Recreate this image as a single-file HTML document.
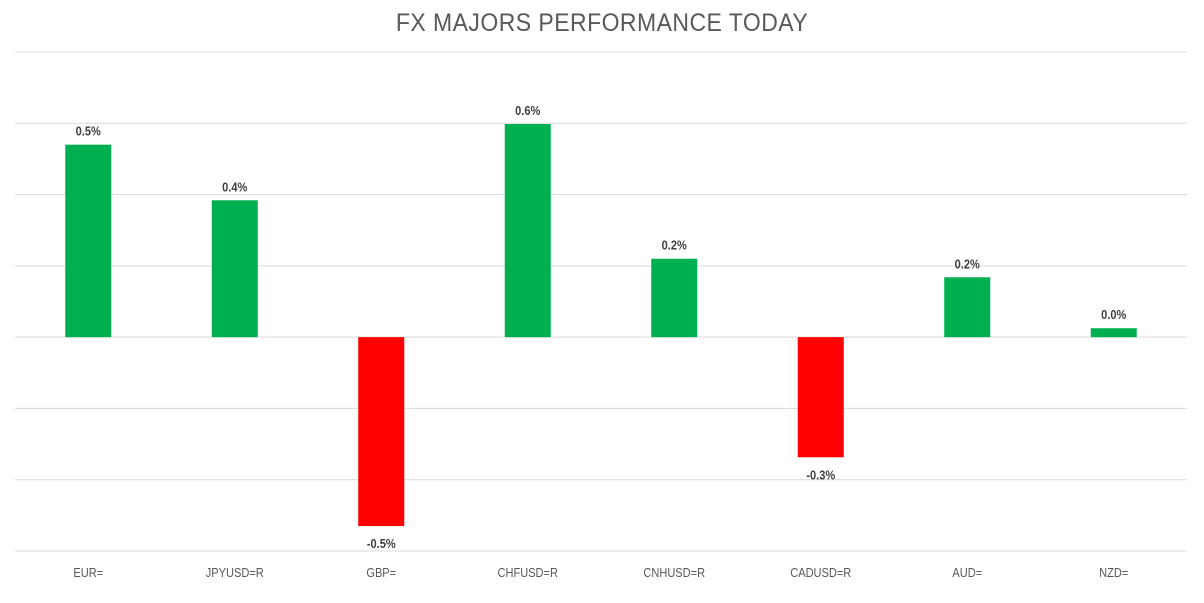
<!DOCTYPE html>
<html><head><meta charset="utf-8"><style>
body{margin:0;background:#fff;}
svg{display:block;font-family:"Liberation Sans",sans-serif;}
</style></head><body>
<svg id="chart" width="1204" height="603">
<text x="602" y="31" text-anchor="middle" font-size="25" fill="#595959" style="letter-spacing:0.5px" transform="translate(602,0) scale(0.92,1) translate(-602,0)">FX MAJORS PERFORMANCE TODAY</text>
<g id="grid"></g><g id="bars"></g><g id="labels"></g>
</svg>
<script>
const categories=["EUR=","JPYUSD=R","GBP=","CHFUSD=R","CNHUSD=R","CADUSD=R","AUD=","NZD="];
const values=[0.54,0.384,-0.53,0.598,0.22,-0.337,0.168,0.025];
const valueLabels=["0.5%","0.4%","-0.5%","0.6%","0.2%","-0.3%","0.2%","0.0%"];
const yTicks=[-0.6,-0.4,-0.2,0,0.2,0.4,0.6,0.8];
const NS="http://www.w3.org/2000/svg";
const x0=15,x1=1187,yTop=52,yBot=551,yMin=-0.6,yMax=0.8;
function y(v){return yBot-(v-yMin)/(yMax-yMin)*(yBot-yTop);}
const band=(x1-x0)/categories.length;
function xc(i){return x0+band*(i+0.5);}
function mk(t,a,p){const e=document.createElementNS(NS,t);for(const k in a)e.setAttribute(k,a[k]);p.appendChild(e);return e;}
const grid=document.getElementById('grid'),bars=document.getElementById('bars'),labels=document.getElementById('labels');
yTicks.forEach(t=>{const l=mk('line',{x1:x0,x2:x1,y1:y(t),y2:y(t),stroke:'#d9d9d9','stroke-width':1},grid);

});
categories.forEach((c,i)=>{
const v=values[i],bw=46;
const r=mk('rect',{x:xc(i)-bw/2,y:Math.min(y(v),y(0)),width:bw,height:Math.abs(y(v)-y(0)),fill:v>=0?'#00b050':'#ff0000'},bars);


const ty=v>=0?y(v)-9:y(v)+22;
const t=mk('text',{x:xc(i),y:ty,'text-anchor':'middle','font-size':13,'font-weight':'bold',fill:'#404040',transform:`translate(${xc(i)},0) scale(0.85,1) translate(${-xc(i)},0)`},labels);
t.textContent=valueLabels[i];


const a=mk('text',{x:xc(i),y:577,'text-anchor':'middle','font-size':13,fill:'#595959',transform:`translate(${xc(i)},0) scale(0.85,1) translate(${-xc(i)},0)`},labels);
a.textContent=c;


});
</script>
</body></html>
